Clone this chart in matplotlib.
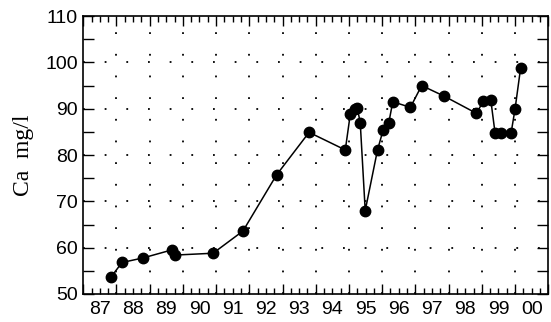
import numpy as np
import matplotlib
matplotlib.use("Agg")
import matplotlib.pyplot as plt
from matplotlib.ticker import MultipleLocator, FixedLocator, FixedFormatter

# sampling dates (decimal years) and calcium concentration
years = [1987.84, 1988.17, 1988.81, 1989.66, 1989.76, 1990.91, 1991.81, 1992.82,
         1993.80, 1994.89, 1995.04, 1995.17, 1995.25, 1995.34, 1995.49, 1995.86,
         1996.03, 1996.20, 1996.32, 1996.85, 1997.19, 1997.87, 1998.84, 1999.05,
         1999.27, 1999.40, 1999.57, 1999.88, 2000.00, 2000.17]
ca = [53.7, 56.8, 57.8, 59.5, 58.4, 58.8, 63.6, 75.7,
      84.9, 81.1, 88.8, 89.9, 90.2, 87.0, 68.0, 81.1,
      85.4, 87.0, 91.5, 90.3, 95.0, 92.7, 89.0, 91.7,
      91.9, 84.7, 84.7, 84.7, 89.9, 98.9]

year_labels = ["87", "88", "89", "90", "91", "92", "93", "94",
               "95", "96", "97", "98", "99", "00"]
label_pos = [1987.5 + i for i in range(len(year_labels))]

fig = plt.figure(figsize=(5.51, 3.22), dpi=100)
ax = fig.add_axes([0.151, 0.087, 0.844, 0.863])

ax.plot(years, ca, "-", color="black", lw=1.1, marker="o", ms=7.5,
        mfc="black", mec="black", zorder=3)

ax.set_xlim(1987, 2001)
ax.set_ylim(50, 110)

# dotted grid: year boundaries and every 10 mg/l
for x in range(1988, 2001):
    ax.axvline(x, color="black", lw=1.3, ls=(0, (1, 11)), zorder=1)
for y in range(60, 110, 10):
    ax.axhline(y, color="black", lw=1.3, ls=(0, (1, 11)), zorder=1)

ax.xaxis.set_major_locator(FixedLocator(range(1987, 2002)))
ax.xaxis.set_minor_locator(MultipleLocator(0.25))
ax.xaxis.set_major_formatter(FixedFormatter([""] * 15))
ax.yaxis.set_major_locator(MultipleLocator(10))
ax.yaxis.set_minor_locator(MultipleLocator(5))

for i, lab in enumerate(year_labels):
    ax.text(label_pos[i], -0.025, lab, transform=ax.get_xaxis_transform(),
            ha="center", va="top", fontsize=14, family="Liberation Sans")

ax.tick_params(which="both", direction="in", top=True, right=True, width=1.0)
ax.tick_params(axis="x", which="major", length=7)
ax.tick_params(axis="x", which="minor", length=4)
ax.tick_params(axis="y", which="both", length=8)
for lab in ax.get_yticklabels():
    lab.set_fontsize(14)
    lab.set_family("Liberation Sans")
ax.tick_params(axis="y", pad=4)

for s in ax.spines.values():
    s.set_linewidth(1.2)

ax.set_ylabel("Ca  mg/l", fontsize=17, family="Liberation Serif", labelpad=8)

fig.savefig("out.png", dpi=100)
